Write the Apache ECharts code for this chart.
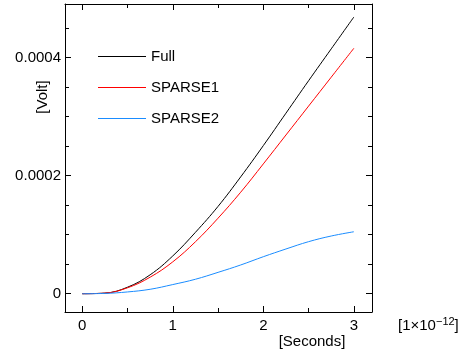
<!DOCTYPE html>
<html>
<head>
<meta charset="utf-8">
<script src="https://cdn.jsdelivr.net/npm/echarts@6/dist/echarts.min.js"></script>
<style>
  html, body { margin: 0; padding: 0; background: #fff; }
  #chart { width: 469px; height: 350px; }
</style>
</head>
<body>
<div id="chart"></div>
<script>
// time in units of 1e-12 s
const times = [0, 0.25, 0.5, 0.75, 1, 1.25, 1.5, 1.75, 2, 2.25, 2.5, 2.75, 3];
const full = [0, 0.000001, 0.000011, 0.000032, 0.000064, 0.000104, 0.000148, 0.000198, 0.000251, 0.000306, 0.000361, 0.000415, 0.000469];
const sparse1 = [0, 0.000001, 0.00001, 0.000028, 0.000054, 0.000088, 0.000128, 0.000172, 0.00022, 0.000269, 0.000318, 0.000367, 0.000416];
const sparse2 = [0, 0.0000005, 0.000003, 0.0000075, 0.0000155, 0.0000245, 0.0000362, 0.0000487, 0.0000627, 0.0000758, 0.0000882, 0.0000978, 0.000105];

const xMajor = [0, 1, 2, 3];
const xMinor = [0.5, 1.5, 2.5];
const yMajor = [0, 0.0002, 0.0004];
const yMinor = [0.00005, 0.0001, 0.00015, 0.00025, 0.0003, 0.00035, 0.00045];

const X_MIN = -0.19, X_MAX = 3.2;
const Y_MIN = -0.000031, Y_MAX = 0.000491;
const FONT = 'Liberation Sans, Arial, sans-serif';

const pairs = (ys) => times.map((t, i) => [t, ys[i]]);

const xAx = (position, ticks, len, showLine, showLabel) => ({
    type: 'value', position, min: X_MIN, max: X_MAX,
    axisLine: {show: showLine, onZero: false, lineStyle: {color: '#000', width: 1}},
    axisTick: {show: true, inside: true, length: len, customValues: ticks, lineStyle: {color: '#000'}},
    axisLabel: showLabel ? {show: true, customValues: ticks, color: '#000', fontSize: 15, fontFamily: FONT, margin: 6}
                         : {show: false},
    splitLine: {show: false}
});
const yAx = (position, ticks, len, showLine, showLabel) => ({
    type: 'value', position, min: Y_MIN, max: Y_MAX,
    axisLine: {show: showLine, onZero: false, lineStyle: {color: '#000', width: 1}},
    axisTick: {show: true, inside: true, length: len, customValues: ticks, lineStyle: {color: '#000'}},
    axisLabel: showLabel ? {show: true, customValues: ticks, color: '#000', fontSize: 15, fontFamily: FONT, margin: 4,
                            formatter: (v) => v === 0 ? '0' : v.toFixed(4)}
                         : {show: false},
    splitLine: {show: false}
});

const chart = echarts.init(document.getElementById('chart'));
chart.setOption({
    animation: false,
    grid: {left: 65, right: 97, top: 4, bottom: 38, containLabel: false},
    xAxis: [
        xAx('bottom', xMajor, 6, true, true),
        xAx('bottom', xMinor, 4, false, false),
        xAx('top', xMajor, 6, true, false),
        xAx('top', xMinor, 4, false, false)
    ],
    yAxis: [
        yAx('left', yMajor, 6, true, true),
        yAx('left', yMinor, 4, false, false),
        yAx('right', yMajor, 6, true, false),
        yAx('right', yMinor, 4, false, false)
    ],
    legend: {
        orient: 'vertical', left: 98, top: 49, padding: 0,
        icon: 'rect', itemWidth: 48, itemHeight: 1.2, itemGap: 16,
        textStyle: {fontSize: 15, fontFamily: FONT, color: '#000', padding: [0, 0, 0, 0]},
        data: ['Full', 'SPARSE1', 'SPARSE2']
    },
    graphic: [
        {type: 'text', x: 43, y: 97, rotation: Math.PI / 2,
         style: {text: '[Volt]', font: '15px ' + FONT, fill: '#000', textAlign: 'center', textVerticalAlign: 'middle'}},
        {type: 'text', x: 312, y: 342,
         style: {text: '[Seconds]', font: '15px ' + FONT, fill: '#000', textAlign: 'center', textVerticalAlign: 'middle'}},
        {type: 'text', x: 398, y: 326,
         style: {text: '[1×10{sup|−12}]', font: '15px ' + FONT, fill: '#000', textVerticalAlign: 'middle',
                 rich: {sup: {fontSize: 11, fontFamily: FONT, verticalAlign: 'top', padding: [0, 0, 8, 0]}}}}
    ],
    series: [
        {name: 'Full', type: 'line', data: pairs(full), smooth: 0.4, symbol: 'none',
         lineStyle: {color: '#000', width: 1}, itemStyle: {color: '#000'}},
        {name: 'SPARSE1', type: 'line', data: pairs(sparse1), smooth: 0.4, symbol: 'none',
         lineStyle: {color: '#ff0000', width: 1}, itemStyle: {color: '#ff0000'}},
        {name: 'SPARSE2', type: 'line', data: pairs(sparse2), smooth: 0.4, symbol: 'none',
         lineStyle: {color: '#1a8cff', width: 1}, itemStyle: {color: '#1a8cff'}}
    ]
});
</script>
</body>
</html>
